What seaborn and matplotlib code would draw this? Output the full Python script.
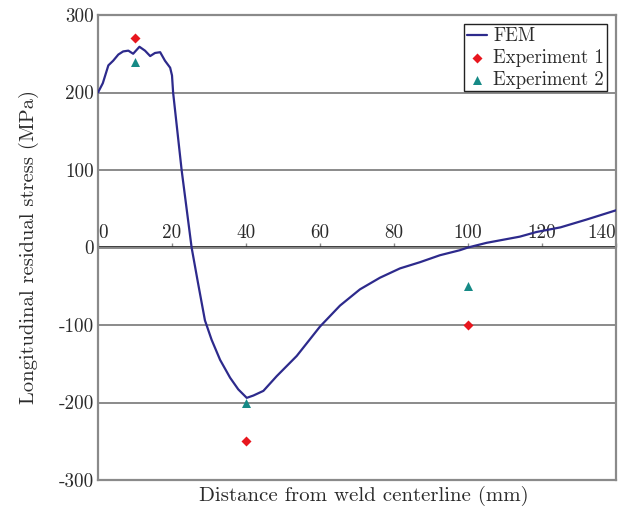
import matplotlib
matplotlib.use("Agg")
import matplotlib.pyplot as plt
import seaborn as sns
import pandas as pd

# FEM longitudinal residual stress along the distance from the weld centerline
fem_x = [0, 1.3, 2.8, 4.1, 5.5, 6.8, 8.2, 9.5, 11.2, 12.7, 14.1, 15.4, 16.8, 18.1,
         19.5, 20.0, 20.3, 22.6, 25.3, 27.0, 28.9, 30.7, 33.0, 35.7, 37.9, 40.2,
         42.0, 44.7, 48.3, 53.7, 60.0, 65.4, 70.8, 76.2, 81.6, 87.0, 92.4, 97.8,
         100.0, 105.0, 114.0, 118.5, 125.0, 132.0, 140.0]
fem_y = [200, 212, 235, 241, 249, 253, 254, 250, 259, 254, 247, 251, 252, 241,
         232, 222, 200, 100, 0, -45, -94, -119, -145, -168, -183, -194,
         -191, -185, -166, -140, -102, -75, -54, -39, -27, -19, -10, -3.5,
         0, 6, 14, 20, 26, 36, 48]

# Measured values
exp_x = [10, 40, 100]
exp1_y = [270, -250, -100]
exp2_y = [240, -200, -50]

x_ticks = [0, 20, 40, 60, 80, 100, 120, 140]
y_ticks = [-300, -200, -100, 0, 100, 200, 300]
y_tick_labels = ["-300", "-200", "-100", "0", "100", "200", "300"]

sns.set_theme(style="white")
plt.rcParams["font.family"] = ["cmr10", "DejaVu Serif"]
plt.rcParams["axes.formatter.use_mathtext"] = True
plt.rcParams["axes.unicode_minus"] = False

line_color = "#2d2a8c"
red = "#e8161e"
teal = "#168a86"
frame_gray = "#8a8a8a"
text_color = "#2b2b2b"

fig = plt.figure(figsize=(6.21, 5.09), dpi=100)
ax = fig.add_axes([98 / 621, 29 / 509, 518 / 621, 465 / 509])

fem = pd.DataFrame({"x": fem_x, "y": fem_y})
e1 = pd.DataFrame({"x": exp_x, "y": exp1_y})
e2 = pd.DataFrame({"x": exp_x, "y": exp2_y})

for yt in y_ticks[1:-1]:
    ax.axhline(yt, color=frame_gray, lw=1.4, zorder=1)

sns.lineplot(data=fem, x="x", y="y", ax=ax, color=line_color, lw=1.6,
             label="FEM", zorder=3, sort=False)
sns.scatterplot(data=e1, x="x", y="y", ax=ax, color=red, marker="D", s=26,
                edgecolor=red, linewidth=0, label="Experiment 1", zorder=4)
sns.scatterplot(data=e2, x="x", y="y", ax=ax, color=teal, marker="^", s=42,
                edgecolor=teal, linewidth=0, label="Experiment 2", zorder=4)

ax.set_xlim(0, 140)
ax.set_ylim(-300, 300)

for sp in ax.spines.values():
    sp.set_color(frame_gray)
    sp.set_linewidth(1.6)

ax.set_xticks([])
ax.set_yticks(y_ticks)
ax.set_yticklabels(y_tick_labels)
ax.tick_params(axis="y", length=0, pad=3, labelsize=13.8, labelcolor=text_color)

# x tick marks and labels sit on the zero line
zero_axis = ax.secondary_xaxis(0.5)
zero_axis.set_xticks(x_ticks)
zero_axis.set_xticklabels([str(t) for t in x_ticks])
zero_axis.spines["bottom"].set_visible(False)
zero_axis.tick_params(axis="x", length=3, width=1, color=frame_gray, pad=1,
                      labelsize=13.8, labelcolor=text_color)
labels = zero_axis.get_xticklabels()
labels[0].set_horizontalalignment("left")
labels[-1].set_horizontalalignment("right")

ax.set_xlabel("Distance from weld centerline (mm)", fontsize=15,
              color=text_color)
ax.xaxis.set_label_coords(0.514, -0.012, transform=ax.transAxes)
ax.xaxis.label.set_verticalalignment("top")
ax.set_ylabel("Longitudinal residual stress (MPa)", fontsize=14.8,
              color=text_color, labelpad=14)

leg = ax.legend(loc="upper right", fontsize=13.5, frameon=True, fancybox=False,
                edgecolor="#222222", framealpha=1, borderpad=0.15,
                handlelength=1.1, handletextpad=0.3, labelspacing=0.2,
                borderaxespad=0.5)
leg.get_frame().set_linewidth(1.0)
for t in leg.get_texts():
    t.set_color(text_color)

fig.savefig("out.png", dpi=100)
